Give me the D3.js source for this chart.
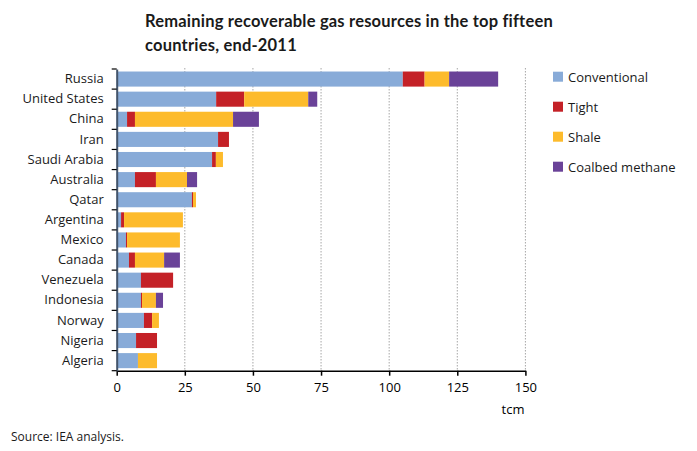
<!DOCTYPE html>
<html><head><meta charset="utf-8">
<script src="https://cdn.jsdelivr.net/npm/d3@7"></script>
<style>body{margin:0;background:#fff}svg{display:block}</style>
</head><body>
<svg id="c" width="697" height="451"></svg>
<script>
const countries = ["Russia","United States","China","Iran","Saudi Arabia","Australia","Qatar","Argentina","Mexico","Canada","Venezuela","Indonesia","Norway","Nigeria","Algeria"];
const seriesNames = ["Conventional","Tight","Shale","Coalbed methane"];
const conventional = [105, 36.5, 3.8, 37.2, 35, 6.7, 27.6, 1.6, 3.4, 4.5, 8.9, 8.9, 10, 7.1, 7.8];
const tight        = [8, 10.3, 2.9, 4, 1.4, 7.7, 0.4, 1.1, 0.4, 2.2, 11.8, 0.4, 3, 7.7, 0];
const shale        = [9, 23.5, 36, 0, 2.6, 11.4, 1.1, 21.6, 19.4, 10.7, 0, 5.1, 2.5, 0, 7];
const coalbed      = [18, 3.3, 9.5, 0, 0, 3.7, 0, 0, 0, 5.8, 0, 2.6, 0, 0, 0];
const xTicks = [0, 25, 50, 75, 100, 125, 150];
const colors = ["#88abd8","#c42127","#fdbb2c","#6a4298"];

(function(){
const svg = d3.select("#c");
const mL = 116.7, mR = 525.4, mT = 69, mB = 370.7;
const x = d3.scaleLinear().domain([0,150]).range([mL,mR]);
const y = d3.scaleBand().domain(countries).range([mT,mB]).paddingInner(0.25).paddingOuter(0.125);

const rows = countries.map((c,i)=>({country:c, Conventional:conventional[i], Tight:tight[i], Shale:shale[i], "Coalbed methane":coalbed[i]}));
const stacked = d3.stack().keys(seriesNames)(rows);

// gridlines
svg.append("g").selectAll("line").data(xTicks.slice(1)).join("line")
  .attr("x1",d=>x(d)).attr("x2",d=>x(d)).attr("y1",mT-1).attr("y2",mB)
  .attr("stroke","#a6a6a6").attr("stroke-width",1).attr("stroke-dasharray","1.5,1.5");

// bars
svg.append("g").selectAll("g").data(stacked).join("g")
  .attr("fill",(d,i)=>colors[i])
  .selectAll("rect").data(d=>d).join("rect")
  .attr("x",d=>x(d[0])).attr("width",d=>Math.max(0,x(d[1])-x(d[0])))
  .attr("y",d=>y(d.data.country)).attr("height",y.bandwidth());

// bottom axis
const xa = svg.append("g").attr("transform",`translate(0,${mB})`)
  .call(d3.axisBottom(x).tickValues(xTicks).tickSize(5).tickSizeOuter(0));
xa.select(".domain").attr("stroke","#000").attr("stroke-width",1.5);
xa.selectAll(".tick line").attr("stroke","#000").attr("stroke-width",1.5);
xa.selectAll("text").attr("font-family","'Open Sans', sans-serif").attr("font-size","13px").attr("fill","#000").attr("dy","1.05em");

// left axis
const ya = svg.append("g").attr("transform",`translate(${mL},0)`)
  .call(d3.axisLeft(y).tickSize(0).tickPadding(13));
ya.select(".domain").attr("stroke","#44546a").attr("stroke-width",2);
ya.selectAll("text").attr("font-family","'Open Sans', sans-serif").attr("font-size","13px").attr("fill","#1a1a1a");
// category boundary ticks
const bounds = countries.map(c=>y(c)-y.step()*y.paddingInner()/2).concat([mB]);
svg.append("g").selectAll("line").data(bounds).join("line")
  .attr("x1",mL-5).attr("x2",mL).attr("y1",d=>d).attr("y2",d=>d)
  .attr("stroke","#000").attr("stroke-width",1.2);

// title
const title = svg.append("text").attr("font-family","Lato, sans-serif").attr("font-weight","bold").attr("font-size","16.5px").attr("letter-spacing","0.2px").attr("fill","#1a1a1a");
title.append("tspan").attr("x",145).attr("y",27).text("Remaining recoverable gas resources in the top fifteen");
title.append("tspan").attr("x",145).attr("y",51).text("countries, end-2011");

// legend
const lg = svg.append("g").selectAll("g").data(seriesNames).join("g")
  .attr("transform",(d,i)=>`translate(553,${71.7+i*30})`);
lg.append("rect").attr("width",10).attr("height",10).attr("fill",(d,i)=>colors[i]);
lg.append("text").attr("x",15).attr("y",10).attr("font-family","'Open Sans', sans-serif").attr("font-size","13px").attr("fill","#1a1a1a").text(d=>d);

// unit and source
svg.append("text").attr("x",513).attr("y",414).attr("text-anchor","middle").attr("font-family","'Open Sans', sans-serif").attr("font-size","13px").text("tcm");
svg.append("text").attr("x",11).attr("y",441).attr("font-family","'Open Sans', sans-serif").attr("font-size","12px").attr("fill","#1a1a1a").text("Source: IEA analysis.");
})();
</script>
</body></html>
